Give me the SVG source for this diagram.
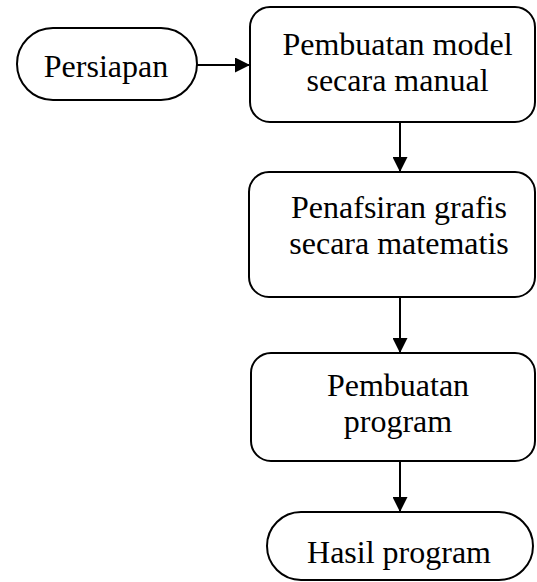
<svg xmlns="http://www.w3.org/2000/svg" width="537" height="582" viewBox="0 0 537 582">
<style>
.n{fill:#fff;stroke:#000;stroke-width:2}
.t{font-family:"Liberation Serif","Times New Roman",serif;font-size:32px;fill:#000;text-anchor:middle}
.c{stroke:#000;stroke-width:2;fill:none;marker-end:url(#ah)}
</style>
<defs>
<marker id="ah" viewBox="0 0 15 15" refX="15" refY="7.5" markerWidth="15" markerHeight="15" markerUnits="userSpaceOnUse" orient="auto">
<path d="M0,0 L15,7.5 L0,15 Z" fill="#000"/>
</marker>
</defs>
<rect width="537" height="582" fill="#fff"/>
<g id="connectors">
<line class="c" x1="197" y1="65" x2="250" y2="65"/>
<line class="c" x1="400" y1="122" x2="400" y2="172"/>
<line class="c" x1="400" y1="297" x2="400" y2="353"/>
<line class="c" x1="400" y1="461" x2="400" y2="512"/>
</g>
<g id="persiapan">
<rect class="n" x="17" y="28" width="180" height="72" rx="36" ry="36"/>
<text class="t" x="106" y="77">Persiapan</text>
</g>
<g id="pembuatan-model">
<rect class="n" x="250" y="7" width="285" height="115" rx="20" ry="20"/>
<text class="t" x="397.5" y="55">Pembuatan model</text>
<text class="t" x="397.5" y="91">secara manual</text>
</g>
<g id="penafsiran">
<rect class="n" x="249" y="172" width="286" height="125" rx="20" ry="20"/>
<text class="t" x="399" y="218">Penafsiran grafis</text>
<text class="t" x="399" y="254">secara matematis</text>
</g>
<g id="pembuatan-program">
<rect class="n" x="251" y="353" width="284" height="108" rx="20" ry="20"/>
<text class="t" x="398" y="396">Pembuatan</text>
<text class="t" x="398" y="432">program</text>
</g>
<g id="hasil">
<rect class="n" x="267" y="512" width="266" height="68" rx="34" ry="34"/>
<text class="t" x="399" y="563">Hasil program</text>
</g>
</svg>
